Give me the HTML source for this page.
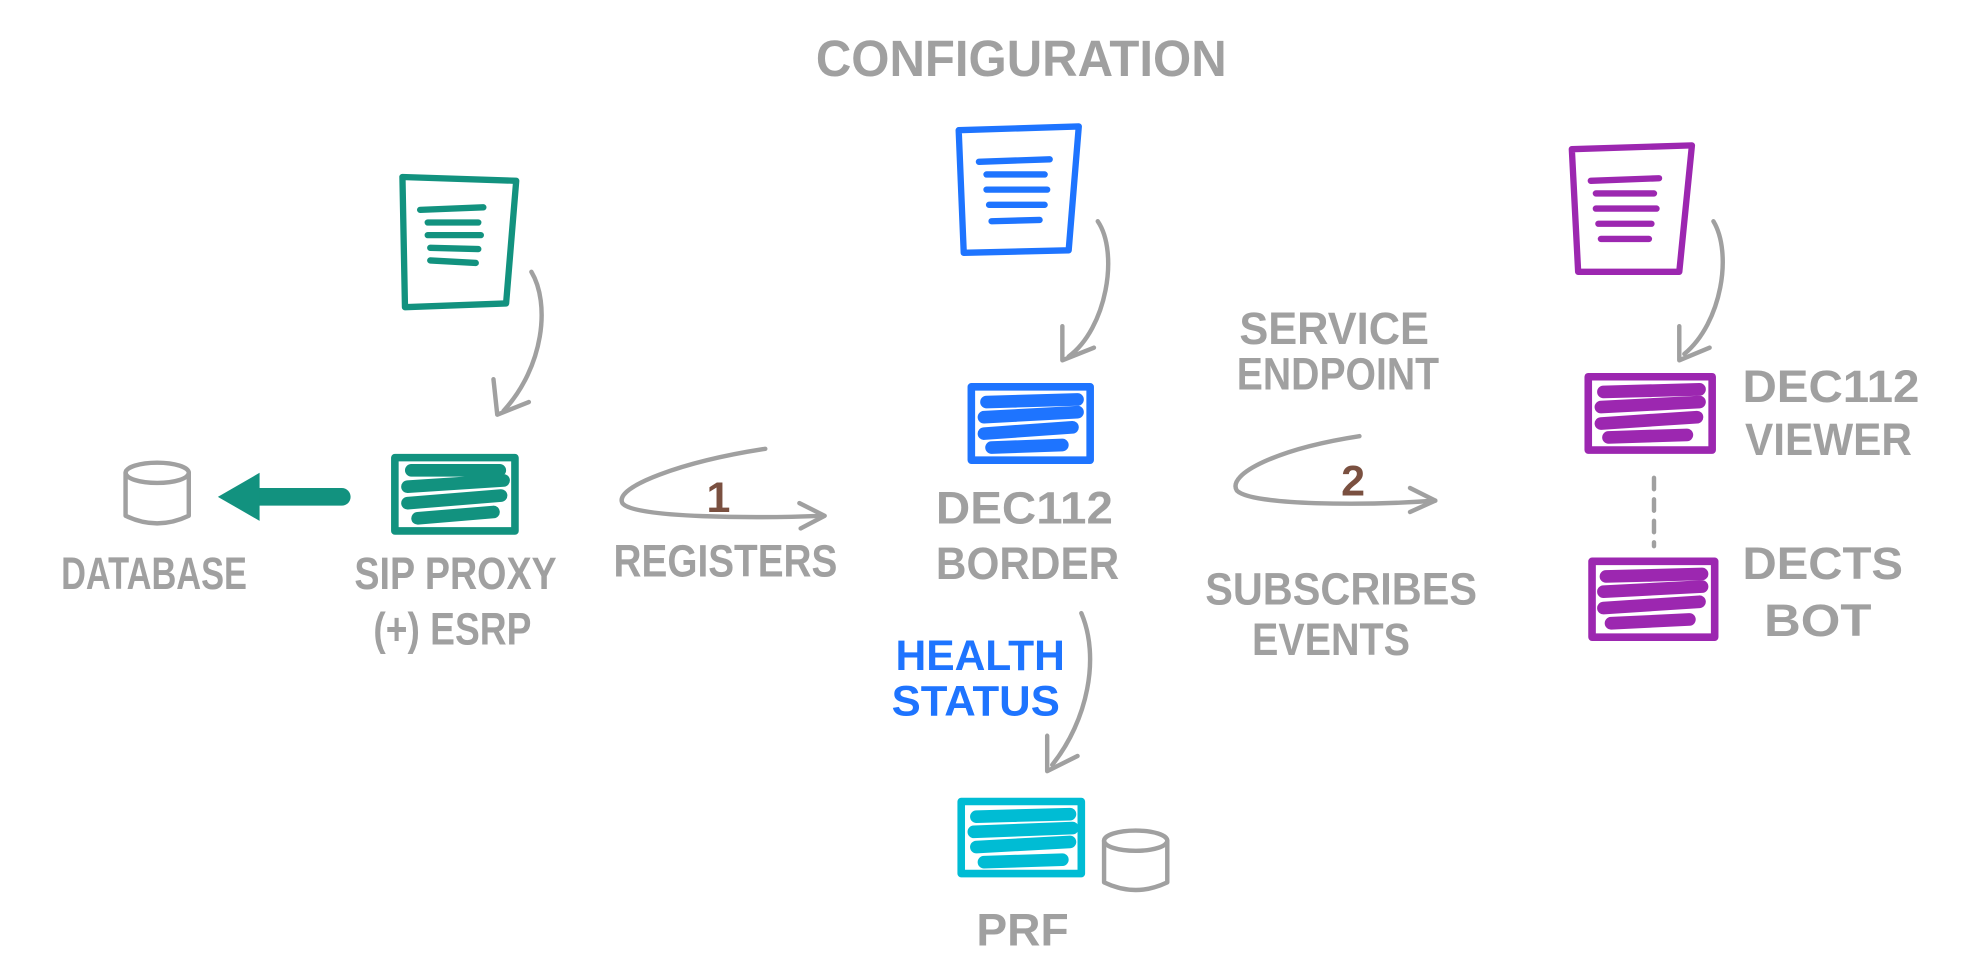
<!DOCTYPE html>
<html><head><meta charset="utf-8"><style>
html,body{margin:0;padding:0;background:#fff;width:1973px;height:957px;overflow:hidden}
svg text{font-family:"Liberation Sans",sans-serif;font-weight:bold;}
</style></head><body>
<svg width="1973" height="957" viewBox="0 0 1560 757" xmlns="http://www.w3.org/2000/svg">
<g fill="none" stroke-linecap="round" stroke-linejoin="round">
<!-- green doc -->
<g stroke="#12927f" stroke-width="5">
<path d="M318 140 L408 143 L400 240 L320 243 Z"/>
<path d="M332 166 L382 164 M338 176 L378 176 M338 186 L380 186 M340 196 L378 197 M340 206 L376 208"/>
<rect x="312" y="362" width="95" height="58" stroke-width="6"/>
<path d="M325 372 L395 372 M322 385 L398 380 M322 398 L396 392 M330 410 L390 405" stroke-width="10"/>
<path d="M270 393 L195 393" stroke-width="14"/>
</g>
<polygon points="172,393 205,374 205,412" fill="#12927f"/>
<!-- blue -->
<g stroke="#1e74ff" stroke-width="5">
<path d="M758 103 L853 100 L845 198 L762 200 Z"/>
<path d="M774 128 L830 126 M780 138 L826 138 M780 150 L828 150 M782 162 L826 162 M784 175 L822 174"/>
<rect x="768" y="306" width="94" height="58" stroke-width="6"/>
<path d="M780 318 L852 316 M778 330 L852 326 M778 343 L848 338 M784 354 L840 352" stroke-width="10"/>
</g>
<!-- cyan -->
<g stroke="#00bcd4" stroke-width="5">
<rect x="760" y="634" width="95" height="57" stroke-width="6"/>
<path d="M772 646 L846 644 M770 658 L848 655 M772 670 L846 666 M778 682 L840 680" stroke-width="10"/>
</g>
<!-- purple -->
<g stroke="#9c27b0" stroke-width="5">
<path d="M1243 118 L1338 115 L1328 215 L1248 215 Z"/>
<path d="M1258 143 L1312 141 M1262 153 L1308 153 M1262 165 L1310 165 M1264 177 L1306 177 M1266 189 L1304 189"/>
<rect x="1256" y="298" width="98" height="58" stroke-width="6"/>
<path d="M1268 310 L1344 308 M1266 322 L1344 318 M1266 335 L1342 330 M1272 346 L1334 344" stroke-width="10"/>
<rect x="1259" y="444" width="97" height="60" stroke-width="6"/>
<path d="M1270 456 L1346 454 M1268 468 L1346 464 M1268 481 L1344 476 M1274 493 L1336 490" stroke-width="10"/>
</g>
<!-- gray arrows -->
<g stroke="#a0a0a0" stroke-width="3.5">
<path d="M420 215 C435 240 430 290 398 325"/><path d="M390 300 L393 328 L418 318"/>
<path d="M868 175 C885 200 875 260 845 282"/><path d="M840 258 L840 285 L865 275"/>
<path d="M1355 175 C1370 200 1362 255 1332 280"/><path d="M1328 258 L1328 285 L1352 275"/>
<path d="M855 485 C870 520 860 570 832 605"/><path d="M828 582 L828 610 L852 598"/>
<path d="M605 355 C540 365 485 385 492 398 C500 410 600 410 650 408"/><path d="M632 398 L652 408 L633 418"/>
<path d="M1075 345 C1010 355 970 375 978 388 C990 400 1080 400 1135 396"/><path d="M1115 386 L1135 396 L1115 405"/>
<path d="M1308 378 L1308 432" stroke-dasharray="9 8"/>
<ellipse cx="124" cy="374" rx="25" ry="8"/><path d="M99 374 L99 408 Q124 420 149 408 L149 374"/>
<ellipse cx="898" cy="665" rx="25" ry="8"/><path d="M873 665 L873 698 Q898 710 923 698 L923 665"/>
</g>
</g>
<g fill="#a0a0a0" font-size="36" lengthAdjust="spacingAndGlyphs">
<text x="645" y="60" font-size="40" textLength="325" lengthAdjust="spacingAndGlyphs">CONFIGURATION</text>
<text x="48" y="466" textLength="147" lengthAdjust="spacingAndGlyphs">DATABASE</text>
<text x="280" y="466" textLength="160" lengthAdjust="spacingAndGlyphs">SIP PROXY</text>
<text x="295" y="510" textLength="125" lengthAdjust="spacingAndGlyphs">(+) ESRP</text>
<text x="485" y="456" textLength="177" lengthAdjust="spacingAndGlyphs">REGISTERS</text>
<text x="740" y="414" textLength="140" lengthAdjust="spacingAndGlyphs">DEC112</text>
<text x="740" y="458" textLength="145" lengthAdjust="spacingAndGlyphs">BORDER</text>
<text x="772" y="748" textLength="73" lengthAdjust="spacingAndGlyphs">PRF</text>
<text x="980" y="272" textLength="150" lengthAdjust="spacingAndGlyphs">SERVICE</text>
<text x="978" y="308" textLength="160" lengthAdjust="spacingAndGlyphs">ENDPOINT</text>
<text x="953" y="478" textLength="215" lengthAdjust="spacingAndGlyphs">SUBSCRIBES</text>
<text x="990" y="518" textLength="125" lengthAdjust="spacingAndGlyphs">EVENTS</text>
<text x="1378" y="318" textLength="140" lengthAdjust="spacingAndGlyphs">DEC112</text>
<text x="1380" y="360" textLength="132" lengthAdjust="spacingAndGlyphs">VIEWER</text>
<text x="1378" y="458" textLength="127" lengthAdjust="spacingAndGlyphs">DECTS</text>
<text x="1395" y="503" textLength="85" lengthAdjust="spacingAndGlyphs">BOT</text>
</g>
<g fill="#1e74ff" font-size="34">
<text x="708" y="530" textLength="134" lengthAdjust="spacingAndGlyphs">HEALTH</text>
<text x="705" y="566" textLength="133" lengthAdjust="spacingAndGlyphs">STATUS</text>
</g>
<g fill="#7a5040" font-size="34" text-anchor="middle">
<text x="568" y="405">1</text>
<text x="1070" y="392">2</text>
</g>
</svg>
</body></html>
